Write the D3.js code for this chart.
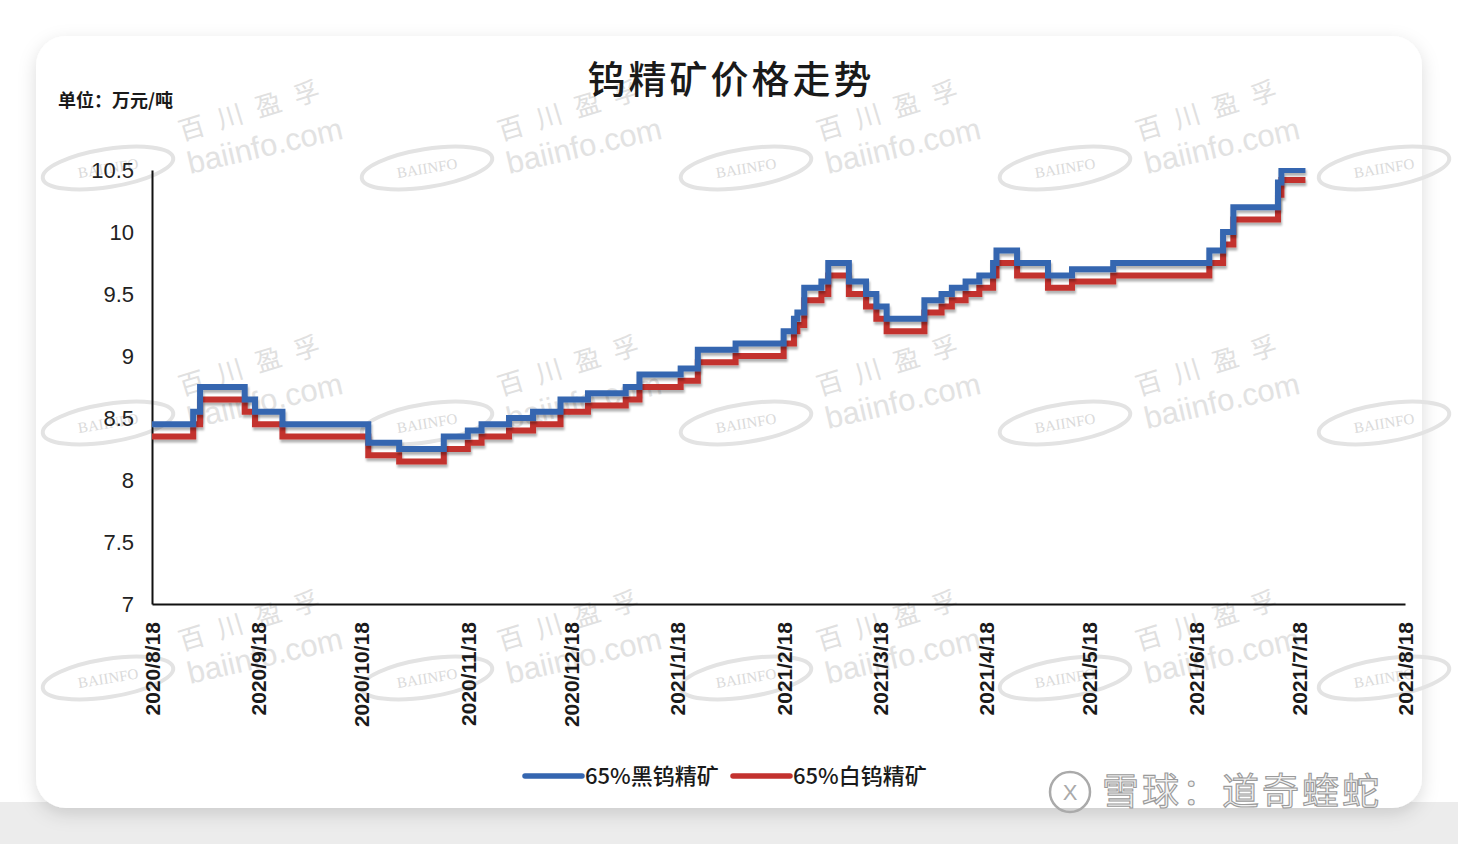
<!DOCTYPE html>
<html>
<head>
<meta charset="utf-8">
<script src="https://cdn.jsdelivr.net/npm/d3@7"></script>
<style>
  body { margin: 0; background: #fff; }
  svg { display: block; }
  .cjk { font-family: "Noto Sans CJK SC", "Noto Sans", sans-serif; }
  .num { font-family: "Liberation Sans", Arial, sans-serif; }
</style>
</head>
<body>
<div id="chart"></div>
<script>
// change points of the daily price (step after)
var dates = ["2020-08-18","2020-08-30","2020-09-01","2020-09-14","2020-09-17","2020-09-25",
  "2020-10-20","2020-10-29","2020-11-11","2020-11-18","2020-11-22","2020-11-30","2020-12-07",
  "2020-12-15","2020-12-23","2021-01-03","2021-01-07","2021-01-19","2021-01-24","2021-02-04",
  "2021-02-18","2021-02-21","2021-02-22","2021-02-24","2021-03-01","2021-03-03","2021-03-09",
  "2021-03-14","2021-03-17","2021-03-20","2021-03-31","2021-04-05","2021-04-08","2021-04-12",
  "2021-04-16","2021-04-20","2021-04-21","2021-04-27","2021-05-06","2021-05-13","2021-05-25",
  "2021-06-22","2021-06-26","2021-06-29","2021-07-12","2021-07-13","2021-07-20"];
var blackTungsten = [8.45,8.55,8.75,8.65,8.55,8.45,
  8.3,8.25,8.35,8.4,8.45,8.5,8.55,
  8.65,8.7,8.75,8.85,8.9,9.05,9.1,
  9.2,9.3,9.35,9.55,9.6,9.75,9.6,
  9.5,9.4,9.3,9.45,9.5,9.55,9.6,
  9.65,9.75,9.85,9.75,9.65,9.7,9.75,
  9.85,10.0,10.2,10.4,10.5,10.5];
var whiteTungsten = [8.35,8.45,8.65,8.55,8.45,8.35,
  8.2,8.15,8.25,8.3,8.35,8.4,8.45,
  8.55,8.6,8.65,8.75,8.8,8.95,9.0,
  9.1,9.2,9.25,9.45,9.5,9.65,9.5,
  9.4,9.3,9.2,9.35,9.4,9.45,9.5,
  9.55,9.65,9.75,9.65,9.55,9.6,9.65,
  9.75,9.9,10.1,10.3,10.42,10.42];
var xTickLabels = ["2020/8/18","2020/9/18","2020/10/18","2020/11/18","2020/12/18","2021/1/18",
  "2021/2/18","2021/3/18","2021/4/18","2021/5/18","2021/6/18","2021/7/18","2021/8/18"];
var yTicks = [7, 7.5, 8, 8.5, 9, 9.5, 10, 10.5];
var seriesNames = ["65%黑钨精矿", "65%白钨精矿"];
var seriesColors = ["#3566b0", "#c3322f"];

function drawChart(selector) {
  var W = 1458, H = 844;
  var mLeft = 152, mRight = 1405, mTop = 170, mBottom = 604;
  var parse = d3.timeParse("%Y-%m-%d");
  var parseTick = d3.timeParse("%Y/%m/%d");

  var svg = d3.select(selector).append("svg")
    .attr("width", W).attr("height", H);

  var defs = svg.append("defs");
  var cardShadow = defs.append("filter").attr("id", "cardShadow")
    .attr("x", "-5%").attr("y", "-5%").attr("width", "110%").attr("height", "115%");
  cardShadow.append("feDropShadow").attr("dx", 0).attr("dy", 6).attr("stdDeviation", 9)
    .attr("flood-color", "#000").attr("flood-opacity", 0.14);
  var lineShadow = defs.append("filter").attr("id", "lineShadow")
    .attr("x", "-5%").attr("y", "-20%").attr("width", "110%").attr("height", "140%");
  lineShadow.append("feDropShadow").attr("dx", 1).attr("dy", 3).attr("stdDeviation", 1.2)
    .attr("flood-color", "#000").attr("flood-opacity", 0.3);
  defs.append("clipPath").attr("id", "plotClip").append("rect")
    .attr("x", mLeft).attr("y", mTop - 2).attr("width", mRight - mLeft).attr("height", mBottom - mTop + 2);

  // page floor under the card
  svg.append("rect").attr("x", 0).attr("y", 802).attr("width", W).attr("height", H - 802)
    .attr("fill", "#ececec");

  // card
  svg.append("rect").attr("x", 36).attr("y", 36).attr("width", 1386).attr("height", 772)
    .attr("rx", 30).attr("fill", "#fff").attr("filter", "url(#cardShadow)");

  // watermarks
  var wm = svg.append("g").attr("class", "watermark");
  for (var r = 0; r < 3; r++) {
    for (var c = 0; c < 5; c++) {
      var ox = c * 319, oy = r * 255;
      var e = wm.append("g").attr("transform", "translate(" + (108 + ox) + "," + (168 + oy) + ") rotate(-9)");
      e.append("ellipse").attr("rx", 66).attr("ry", 19).attr("fill", "none")
        .attr("stroke", "#e3e3e3").attr("stroke-width", 4);
      e.append("text").attr("text-anchor", "middle").attr("dy", "0.35em")
        .style("font-family", "Liberation Serif, serif").style("font-size", "15px")
        .attr("fill", "#dadada").text("BAIINFO");
      if (c < 4) {
        wm.append("text").attr("class", "cjk")
          .attr("transform", "translate(" + (182 + ox) + "," + (141 + oy) + ") rotate(-17)")
          .style("font-size", "26px").style("letter-spacing", "14px")
          .attr("fill", "#e0e0e0").text("百川盈孚");
        wm.append("text").attr("class", "num")
          .attr("transform", "translate(" + (190 + ox) + "," + (174 + oy) + ") rotate(-13)")
          .style("font-size", "31px").attr("fill", "#e2e2e2").text("baiinfo.com");
      }
    }
  }

  // title and unit
  svg.append("text").attr("class", "cjk").attr("x", 731).attr("y", 93)
    .attr("text-anchor", "middle").style("font-size", "38px").style("font-weight", 500)
    .style("letter-spacing", "3px").attr("fill", "#1a1a1a").text("钨精矿价格走势");
  svg.append("text").attr("class", "cjk").attr("x", 58).attr("y", 107)
    .style("font-size", "18px").style("font-weight", 700)
    .attr("fill", "#1a1a1a").text("单位：万元/吨");

  // scales
  var x = d3.scaleTime()
    .domain([parseTick(xTickLabels[0]), parseTick(xTickLabels[xTickLabels.length - 1])])
    .range([mLeft, mRight]);
  var y = d3.scaleLinear().domain([7, 10.5]).range([mBottom, mTop]);

  // axes
  var yAxis = svg.append("g").attr("transform", "translate(" + mLeft + ",0)")
    .call(d3.axisLeft(y).tickValues(yTicks).tickSize(0).tickPadding(18)
      .tickFormat(function(d){ return d % 1 ? d.toFixed(1) : d; }));
  yAxis.select(".domain").attr("stroke", "#111").attr("stroke-width", 2);
  yAxis.selectAll("text").attr("class", "num").style("font-size", "22px").attr("fill", "#222");

  var xAxis = svg.append("g").attr("transform", "translate(0," + mBottom + ")")
    .call(d3.axisBottom(x).tickValues(xTickLabels.map(parseTick)).tickSize(0)
      .tickFormat(d3.timeFormat("%Y/%-m/%-d")));
  xAxis.select(".domain").attr("stroke", "#111").attr("stroke-width", 2);
  xAxis.selectAll("text").attr("class", "num")
    .style("font-size", "21px").style("font-weight", 700).attr("fill", "#1a1a1a")
    .attr("text-anchor", "end").attr("transform", "rotate(-90)")
    .attr("x", -18).attr("y", 0).attr("dy", "0.36em");

  // lines
  var rows = dates.map(function(d, i){
    return { date: parse(d), black: blackTungsten[i], white: whiteTungsten[i] };
  });
  var plot = svg.append("g").attr("clip-path", "url(#plotClip)");
  [["white", 1], ["black", 0]].forEach(function(s){
    var line = d3.line().curve(d3.curveStepAfter)
      .x(function(d){ return x(d.date); })
      .y(function(d){ return y(d[s[0]]); });
    plot.append("path").datum(rows)
      .attr("d", line)
      .attr("fill", "none")
      .attr("stroke", seriesColors[s[1]])
      .attr("stroke-width", 6)
      .attr("filter", "url(#lineShadow)");
  });

  // legend
  var legend = svg.append("g").attr("transform", "translate(525,776)");
  seriesNames.forEach(function(name, i){
    var g = legend.append("g").attr("transform", "translate(" + (i * 208) + ",0)");
    g.append("line").attr("x1", 0).attr("x2", 57).attr("y1", 0).attr("y2", 0)
      .attr("stroke", seriesColors[i]).attr("stroke-width", 5.5).attr("stroke-linecap", "round");
    g.append("text").attr("class", "cjk").attr("x", 60).attr("dy", "0.36em")
      .style("font-size", "22px").style("font-weight", 500).attr("fill", "#1a1a1a").text(name);
  });

  // platform watermark
  var xq = svg.append("g").attr("transform", "translate(1046,792)");
  xq.append("circle").attr("cx", 24).attr("cy", 0).attr("r", 20)
    .attr("fill", "none").attr("stroke", "#aaa").attr("stroke-width", 2.5);
  xq.append("text").attr("class", "num").attr("x", 24).attr("dy", "0.36em")
    .attr("text-anchor", "middle").style("font-size", "22px")
    .attr("fill", "#aaa").text("X");
  xq.append("text").attr("class", "cjk").attr("x", 56).attr("dy", "0.36em")
    .style("font-size", "37px").style("letter-spacing", "3px")
    .attr("fill", "#f2f2f2").attr("stroke", "#9a9a9a").attr("stroke-width", 1.1)
    .text("雪球：道奇蝰蛇");
}

drawChart("#chart");
</script>
</body>
</html>
